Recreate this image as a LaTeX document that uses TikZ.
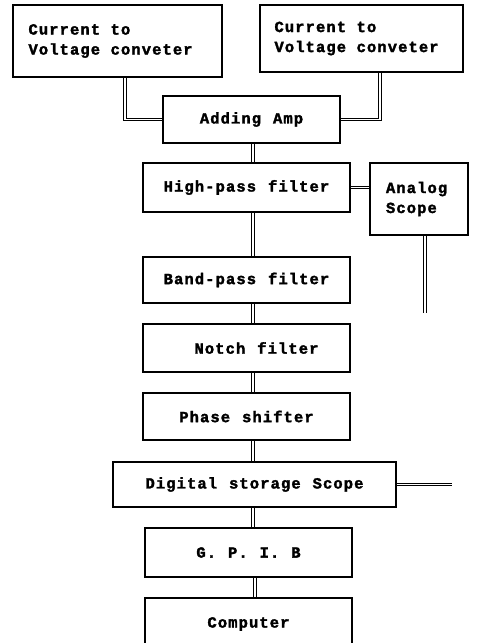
\documentclass[tikz,border=0pt]{standalone}
\usepackage{fontspec}
\newfontfamily\tfont[LetterSpace=7, WordSpace=1.15, BoldFeatures={FakeBold=2}]{Liberation Mono}
\newcommand\wgap{\hspace*{10.5pt}}
\begin{document}
\begin{tikzpicture}[x=1pt,y=-1pt,
  blk/.style={draw, line width=2pt, inner sep=0pt,
    font=\tfont\bfseries\fontsize{15.5}{20}\selectfont, align=center},
  lblk/.style={blk, align=left},
  wire/.style={double, line width=1pt, double distance=1.2pt}]
\useasboundingbox (0,0) rectangle (479,643);
\node[lblk, minimum width=209, minimum height=72, text width=178] (cv1) at (117.5,41) {Current\wgap to\\Voltage\wgap conveter};
\node[lblk, minimum width=203, minimum height=67, text width=174] (cv2) at (361.5,38.5) {Current\wgap to\\Voltage\wgap conveter};
\node[blk, minimum width=177, minimum height=47] (add) at (251.5,119.5) {Adding Amp};
\node[blk, minimum width=207, minimum height=49] (hp) at (246.5,187.5) {High-pass filter};
\node[lblk, minimum width=98, minimum height=72, text width=66] (as) at (419,199) {Analog\\Scope};
\node[blk, minimum width=207, minimum height=46] (bp) at (246.5,280) {Band-pass filter};
\node[blk, minimum width=207, minimum height=48] (nf) at (246.5,348) {\hspace*{20pt}Notch filter};
\node[blk, minimum width=207, minimum height=47] (ps) at (246.5,416.5) {Phase shifter};
\node[blk, minimum width=283, minimum height=45] (dss) at (254.5,484.5) {Digital storage Scope};
\node[blk, minimum width=207, minimum height=49] (gp) at (248.5,552.5) {G. P. I. B};
\node[blk, minimum width=207, minimum height=52] (pc) at (248.5,624) {Computer};
\coordinate (asend) at (425,313);
\coordinate (dssend) at (452,484.5);
\draw[wire] (cv1.south -| 125,0) |- (add.west);
\draw[wire] (cv2.south -| 380,0) |- (add.east);
\draw[wire] (add.south -| 253,0) -- (hp.north -| 253,0);
\draw[wire] (hp.east) -- (as.west |- hp.east);
\draw[wire] (as.south -| asend) -- (asend);
\draw[wire] (hp.south -| 253,0) -- (bp.north -| 253,0);
\draw[wire] (bp.south -| 253,0) -- (nf.north -| 253,0);
\draw[wire] (nf.south -| 253,0) -- (ps.north -| 253,0);
\draw[wire] (ps.south -| 253,0) -- (dss.north -| 253,0);
\draw[wire] (dss.east) -- (dssend);
\draw[wire] (dss.south -| 253,0) -- (gp.north -| 253,0);
\draw[wire] (gp.south -| 255,0) -- (pc.north -| 255,0);
\end{tikzpicture}
\end{document}
